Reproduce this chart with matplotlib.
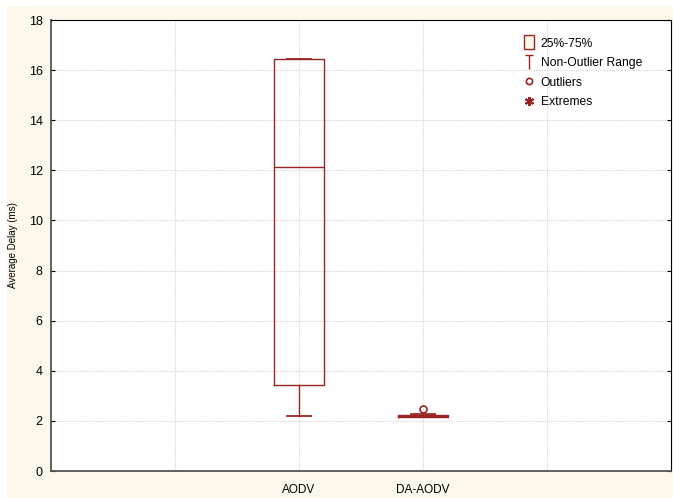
import matplotlib
matplotlib.use("Agg")
import matplotlib.pyplot as plt
from matplotlib.lines import Line2D
from matplotlib.patches import Rectangle
from matplotlib.path import Path

plt.rcParams['font.family'] = ['Liberation Sans', 'DejaVu Sans']

# box statistics
groups = ['AODV', 'DA-AODV']
positions = [2, 3]
q1 = [3.43, 2.17]
med = [12.12, 2.20]
q3 = [16.45, 2.24]
whislo = [2.18, 2.14]
whishi = [16.45, 2.27]
fliers = [[], [2.46]]

red = '#9a2424'
cream = '#fdf8ec'

stats = []
for i in range(len(groups)):
    stats.append(dict(med=med[i], q1=q1[i], q3=q3[i], whislo=whislo[i],
                      whishi=whishi[i], fliers=fliers[i], label=groups[i]))

fig = plt.figure(figsize=(6.73, 4.98), dpi=100)
fig.patches.append(Rectangle((7 / 673, 0), 1, 1 - 6 / 498, transform=fig.transFigure,
                             facecolor=cream, edgecolor='none', zorder=-10))
ax = fig.add_axes([51 / 673, 27 / 498, 620 / 673, 451 / 498])

ax.bxp(stats, positions=positions, widths=0.4, showfliers=True,
       boxprops=dict(color=red, linewidth=1),
       whiskerprops=dict(color=red, linewidth=1),
       capprops=dict(color=red, linewidth=1.3),
       medianprops=dict(color=red, linewidth=1),
       flierprops=dict(marker='o', markerfacecolor='none', markeredgecolor=red,
                       markersize=5, markeredgewidth=1.2),
       capwidths=0.2)

ax.set_xlim(0, 5)
ax.set_ylim(0, 18)
ax.set_yticks(range(0, 19, 2))
ax.set_xticks([1, 2, 3, 4])
ax.set_xticklabels(['', 'AODV', 'DA-AODV', ''])
ax.tick_params(axis='x', length=0, labelsize=8.5, pad=9)
ax.tick_params(axis='y', direction='in', length=3, labelsize=9, right=True, pad=6)
ax.grid(True, linestyle=(0, (1, 1)), color='#d4d4d4', linewidth=0.8)
ax.set_axisbelow(True)
ax.set_ylabel('Average Delay (ms)', fontsize=7)
ax.yaxis.set_label_coords(-0.053, 0.5)

for s in ['top', 'right']:
    ax.spines[s].set_color('black')
for s in ['left', 'bottom']:
    ax.spines[s].set_color('#555555')
    ax.spines[s].set_linewidth(1.3)

# legend markers drawn as small paths: a box and a T-shaped whisker cap
box = Path([(-0.7, -1), (0.7, -1), (0.7, 1), (-0.7, 1), (-0.7, -1)],
           [Path.MOVETO, Path.LINETO, Path.LINETO, Path.LINETO, Path.CLOSEPOLY])
tee = Path([(-0.6, 1), (0.6, 1), (0, 1), (0, -1)],
           [Path.MOVETO, Path.LINETO, Path.MOVETO, Path.LINETO])
handles = [
    Line2D([], [], linestyle='none', marker=box, markersize=10, markeredgecolor=red,
           markerfacecolor=cream, markeredgewidth=1),
    Line2D([], [], linestyle='none', marker=tee, markersize=10.5, markeredgecolor=red,
           markerfacecolor='none', markeredgewidth=1),
    Line2D([], [], linestyle='none', marker='o', markersize=4.5, markerfacecolor='none',
           markeredgecolor=red, markeredgewidth=1.2),
    Line2D([], [], linestyle='none', marker=(6, 2, 0), markersize=6.5, markeredgecolor=red,
           markeredgewidth=1.5),
]
labels = ['25%-75%', 'Non-Outlier Range', 'Outliers', 'Extremes']
ax.legend(handles, labels, loc='upper left', bbox_to_anchor=(0.745, 0.985), frameon=False,
          fontsize=8.7, handlelength=0.8, handletextpad=0.6, labelspacing=0.62)

fig.savefig('out.png', dpi=100)
